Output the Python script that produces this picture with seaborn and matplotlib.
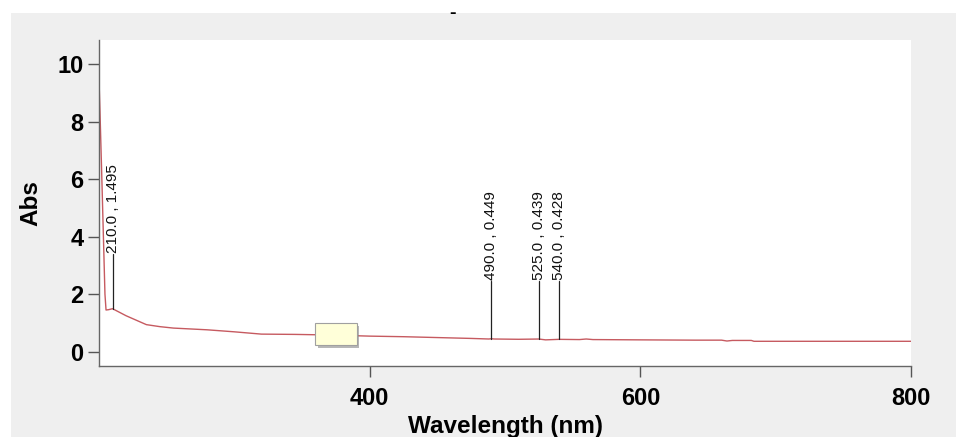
import numpy as np
import pandas as pd
import matplotlib
matplotlib.use("Agg")
import matplotlib.pyplot as plt
import matplotlib.patheffects as pe
from matplotlib.patches import Rectangle
import seaborn as sns

# spectrum
wavelength = [200, 200.7, 202, 203.2, 204.4, 205.2, 207, 210, 220, 235, 245, 255,
              280, 300, 320, 345, 370, 400, 425, 450, 475, 488, 490, 492, 510,
              525, 530, 540, 555, 560, 565, 600, 640, 660, 664, 668, 682, 684,
              720, 800]
absorbance = [9.46, 8.4, 6.2, 4.1, 2.0, 1.45, 1.46, 1.495, 1.25, 0.94, 0.87, 0.82,
              0.76, 0.69, 0.61, 0.60, 0.58, 0.54, 0.52, 0.49, 0.46, 0.44, 0.449, 0.44, 0.43,
              0.439, 0.41, 0.428, 0.42, 0.44, 0.42, 0.41, 0.40, 0.40, 0.37, 0.39, 0.39, 0.36,
              0.36, 0.36]

# picked peaks
peak_x = [210.0, 490.0, 525.0, 540.0]
peak_y = [1.495, 0.449, 0.439, 0.428]
label_top = [3.4, 2.45, 2.45, 2.45]

x_ticks = [400, 600, 800]
y_ticks = [0, 2, 4, 6, 8, 10]

df = pd.DataFrame({"Wavelength (nm)": wavelength, "Abs": absorbance})

sns.set_style("ticks")
plt.rcParams["font.family"] = ["Liberation Sans", "DejaVu Sans"]

fig = plt.figure(figsize=(9.56, 4.37), dpi=100, facecolor="white")
# grey panel behind the plot (white strip top and left)
fig.patches.append(Rectangle((11 / 956, 0), 1, 1 - 13 / 437, transform=fig.transFigure,
                             facecolor="#efefef", edgecolor="none", zorder=-10))
ax = fig.add_axes([99 / 956, 71 / 437, 812 / 956, 326 / 437])
ax.set_zorder(2)
ax.set_facecolor("white")

sns.lineplot(data=df, x="Wavelength (nm)", y="Abs", ax=ax, color="#c65a60",
             linewidth=1.0, estimator=None, sort=False)

for px, py, top in zip(peak_x, peak_y, label_top):
    ax.plot([px, px], [py, top], color="#222222", linewidth=0.9)
    ax.text(px, top + 0.03, f"{px:.1f} , {py:.3f}", rotation=90, ha="center",
            va="bottom", fontsize=11, color="#111111")

# little yellow tooltip box
tip = ax.text(375, 0.62, "         ", fontsize=9, ha="center", va="center", zorder=5,
              bbox=dict(boxstyle="square,pad=0.4", facecolor="#ffffd9",
                        edgecolor="#a0a0a0", linewidth=0.8))
tip.get_bbox_patch().set_path_effects(
    [pe.withSimplePatchShadow(offset=(2, -2), shadow_rgbFace="#888888", alpha=0.6)])

ax.set_xlim(200, 800)
ax.set_ylim(-0.5, 10.85)
ax.set_xticks(x_ticks)
ax.set_yticks(y_ticks)
ax.tick_params(axis="both", direction="out", length=8, width=1, color="#555555",
               labelsize=17, labelcolor="black")
ax.tick_params(axis="x", pad=7)
ax.tick_params(axis="y", pad=3)
for lab in ax.get_xticklabels() + ax.get_yticklabels():
    lab.set_fontweight("bold")
ax.set_xlabel("Wavelength (nm)", fontsize=17.5, fontweight="bold", labelpad=4, color="black")
ax.set_ylabel("Abs", fontsize=17.5, fontweight="bold", labelpad=11, color="black")

for side in ["top", "right"]:
    ax.spines[side].set_visible(False)
for side in ["left", "bottom"]:
    ax.spines[side].set_color("#666666")
    ax.spines[side].set_linewidth(1)

fig.text(452 / 956, 1 - 14 / 437, "-", ha="center", va="center", fontsize=14,
         fontweight="bold", color="black")

fig.savefig("out.png", dpi=100, facecolor=fig.get_facecolor())
